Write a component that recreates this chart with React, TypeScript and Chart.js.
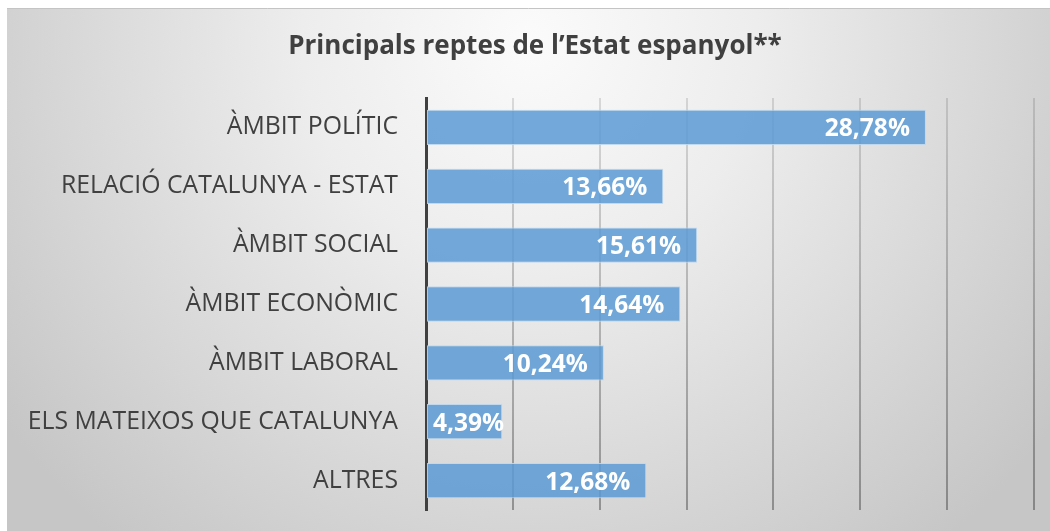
import React, { useEffect, useRef } from "react";
import { Chart, registerables } from "chart.js";
Chart.register(...registerables);

const categories = [
  "ÀMBIT POLÍTIC",
  "RELACIÓ CATALUNYA - ESTAT",
  "ÀMBIT SOCIAL",
  "ÀMBIT ECONÒMIC",
  "ÀMBIT LABORAL",
  "ELS MATEIXOS QUE CATALUNYA",
  "ALTRES",
];
const values = [28.78, 13.66, 15.61, 14.64, 10.24, 4.39, 12.68];
const titleText = "Principals reptes de l\u2019Estat espanyol**";

const FONT = "'Open Sans', sans-serif";

const bgPlugin = {
  id: "bg",
  beforeDraw(chart: any) {
    const { ctx } = chart;
    ctx.save();
    ctx.fillStyle = "#ffffff";
    ctx.fillRect(0, 0, chart.width, chart.height);
    const g = ctx.createRadialGradient(530, 40, 0, 530, 40, 650);
    g.addColorStop(0, "#fbfbfb");
    g.addColorStop(0.35, "#ededed");
    g.addColorStop(1, "#c6c6c6");
    ctx.fillStyle = g;
    ctx.fillRect(7, 8, chart.width - 7, chart.height - 8);
    ctx.strokeStyle = "#c4c4c4";
    ctx.lineWidth = 1;
    ctx.beginPath();
    ctx.moveTo(7, 8.5);
    ctx.lineTo(chart.width, 8.5);
    ctx.stroke();
    ctx.fillStyle = "#404040";
    ctx.font = `bold 26px ${FONT}`;
    ctx.textAlign = "center";
    ctx.textBaseline = "alphabetic";
    ctx.fillText(titleText, 535, 54);
    ctx.restore();
  },
};

const labelPlugin = {
  id: "vals",
  afterDatasetsDraw(chart: any) {
    const { ctx } = chart;
    const meta = chart.getDatasetMeta(0);
    const axisX = chart.scales.x.getPixelForValue(0);
    ctx.save();
    ctx.font = `bold 24.5px ${FONT}`;
    ctx.fillStyle = "#ffffff";
    ctx.textAlign = "right";
    ctx.textBaseline = "middle";
    meta.data.forEach((bar: any, i: number) => {
      const txt = values[i].toFixed(2).replace(".", ",") + "%";
      const w = ctx.measureText(txt).width;
      const xr = Math.max(bar.x - 16, axisX + 7 + w);
      ctx.fillText(txt, xr, bar.y + 2);
    });
    ctx.restore();
  },
};

let gridGrad: any = null;
function gridColor(c: any) {
  const chart = c.chart;
  const area = chart.chartArea;
  if (!area) return "rgba(0,0,0,0.22)";
  if (!gridGrad) {
    gridGrad = chart.ctx.createLinearGradient(0, area.top, 0, area.bottom);
    gridGrad.addColorStop(0, "rgba(0,0,0,0.12)");
    gridGrad.addColorStop(1, "rgba(0,0,0,0.32)");
  }
  return gridGrad;
}

export default function App() {
  const ref = useRef<HTMLCanvasElement>(null);
  useEffect(() => {
    gridGrad = null;
    const chart = new Chart(ref.current!, {
      type: "bar",
      data: {
        labels: categories,
        datasets: [
          {
            data: values,
            backgroundColor: "rgba(91,155,213,0.85)",
            borderColor: "rgba(189,215,238,0.9)",
            borderWidth: 1,
            borderSkipped: false,
            categoryPercentage: 1,
            barPercentage: 0.6,
          },
        ],
      },
      options: {
        indexAxis: "y",
        responsive: false,
        animation: false,
        layout: { padding: { left: 0, right: 16, top: 98, bottom: 21 } },
        plugins: { legend: { display: false }, title: { display: false }, tooltip: { enabled: false } },
        scales: {
          x: {
            min: 0,
            max: 35,
            ticks: { display: false, stepSize: 5 },
            grid: { color: gridColor as any, lineWidth: 2, drawTicks: false },
            border: { display: false },
            afterFit(s: any) {
              s.height = 0;
              s.paddingLeft = 0;
              s.paddingRight = 0;
            },
          },
          y: {
            ticks: {
              color: "#404040",
              font: { family: "'Open Sans', sans-serif", size: 24.8 },
              padding: 28,
            },
            grid: { display: false, drawTicks: false },
            border: { display: true, color: "#404040", width: 3 },
            afterFit(s: any) {
              s.width = 426;
              s.paddingTop = 0;
              s.paddingBottom = 0;
            },
          },
        },
      },
      plugins: [bgPlugin, labelPlugin],
    });
    return () => chart.destroy();
  }, []);
  return (
    <div style={{ position: "fixed", left: 0, top: 0, width: 1050, height: 531 }}>
      <canvas ref={ref} width={1050} height={531} style={{ display: "block" }} />
    </div>
  );
}
